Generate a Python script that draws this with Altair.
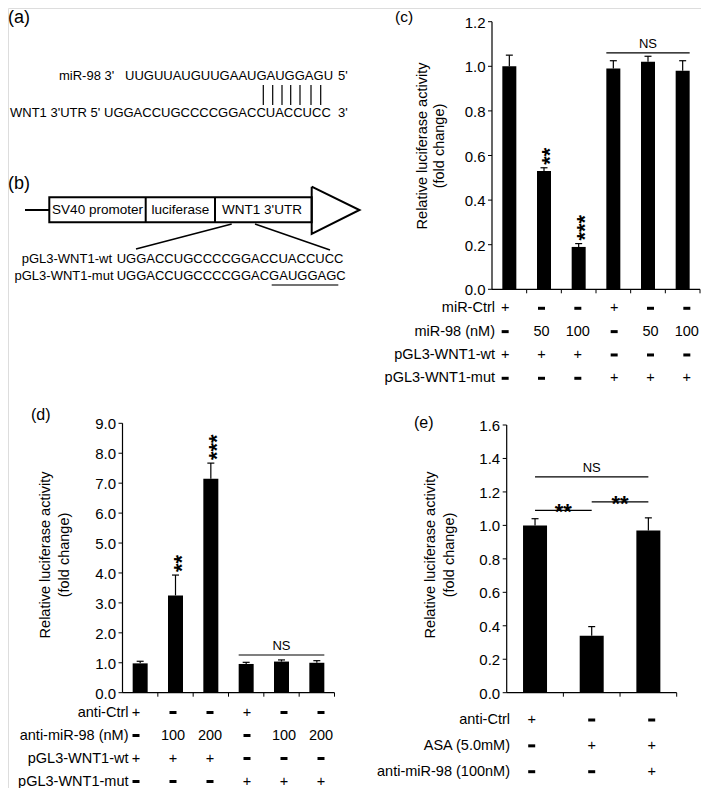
import altair as alt
import pandas as pd

FONT = "Liberation Sans"
W, H, M = 693, 780, 8


def cx(p):
    """page pixel -> chart pixel"""
    return p - M


# ---------------- text content (panels a, b) ----------------
panel_letters = ["(a)", "(b)", "(c)", "(d)", "(e)"]
mir98_label = "miR-98 3'"
mir98_seq = "UUGUUAUGUUGAAUGAUGGAGU"
mir98_end = "5'"
utr_label = "WNT1 3'UTR 5'"
utr_seq = "UGGACCUGCCCCGGACCUACCUCC"
utr_end = "3'"
construct_parts = ["SV40 promoter", "luciferase", "WNT1 3'UTR"]
reporter_labels = ["pGL3-WNT1-wt", "pGL3-WNT1-mut"]
reporter_seqs = ["UGGACCUGCCCCGGACCUACCUCC", "UGGACCUGCCCCGGACGAUGGAGC"]
y_title = ["Relative luciferase activity", "(fold change)"]

# ---------------- panel (c) ----------------
c_values = [1.00, 0.53, 0.19, 0.99, 1.02, 0.98]
c_errors = [0.05, 0.015, 0.015, 0.035, 0.025, 0.045]
c_stars = ["", "**", "***", "", "", ""]
c_cmp_start = [3]
c_cmp_end = [5]
c_cmp_level = [1.06]
c_cmp_label = ["NS"]
c_yticks = [0.0, 0.2, 0.4, 0.6, 0.8, 1.0, 1.2]
c_rows = ["miR-Ctrl", "miR-98 (nM)", "pGL3-WNT1-wt", "pGL3-WNT1-mut"]
c_cells = [
    ["+", "−", "−", "+", "−", "−"],
    ["−", "50", "100", "−", "50", "100"],
    ["+", "+", "+", "−", "−", "−"],
    ["−", "−", "−", "+", "+", "+"],
]

# ---------------- panel (d) ----------------
d_values = [0.98, 3.25, 7.15, 0.96, 1.04, 1.00]
d_errors = [0.07, 0.68, 0.52, 0.055, 0.055, 0.07]
d_stars = ["", "**", "***", "", "", ""]
d_cmp_start = [3]
d_cmp_end = [5]
d_cmp_level = [1.26]
d_cmp_label = ["NS"]
d_yticks = [0, 1, 2, 3, 4, 5, 6, 7, 8, 9]
d_rows = ["anti-Ctrl", "anti-miR-98 (nM)", "pGL3-WNT1-wt", "pGL3-WNT1-mut"]
d_cells = [
    ["+", "−", "−", "+", "−", "−"],
    ["−", "100", "200", "−", "100", "200"],
    ["+", "+", "+", "−", "−", "−"],
    ["−", "−", "−", "+", "+", "+"],
]

# ---------------- panel (e) ----------------
e_values = [1.00, 0.34, 0.97]
e_errors = [0.04, 0.055, 0.075]
e_stars = ["", "", ""]
e_cmp_start = [0, 0, 1]
e_cmp_end = [2, 1, 2]
e_cmp_level = [1.29, 1.09, 1.14]
e_cmp_label = ["NS", "**", "**"]
e_yticks = [0.0, 0.2, 0.4, 0.6, 0.8, 1.0, 1.2, 1.4, 1.6]
e_rows = ["anti-Ctrl", "ASA (5.0mM)", "anti-miR-98 (100nM)"]
e_cells = [
    ["+", "−", "−"],
    ["−", "+", "+"],
    ["−", "−", "+"],
]

# ---------------- layout (page pixels) ----------------
LAY_C = dict(x0=487, x1=705, y0=289.3, y1=21.7, ymax=1.2, bw=14, edge=7,
             r0=308.3, r1=378.3, lab_dx=8)
LAY_D = dict(x0=117.5, x1=339.5, y0=692.7, y1=423.3, ymax=9, bw=15, edge=7.5,
             r0=712.5, r1=781.5, lab_dx=11)
LAY_E = dict(x0=501.7, x1=681.7, y0=692.7, y1=425, ymax=1.6, bw=24, edge=0,
             r0=720, r1=771.7, lab_dx=8.3)

PX = alt.Scale(domain=[0, 709], range=[-M, 709 - M], zero=False, nice=False)
PY = alt.Scale(domain=[0, 796], range=[-M, 796 - M], zero=False, nice=False)


def diagram():
    left = pd.DataFrame([
        dict(text=panel_letters[0], x=8, y=18, size=18),
        dict(text=panel_letters[1], x=8, y=184, size=18),
        dict(text=panel_letters[2], x=395, y=17, size=15.5),
        dict(text=panel_letters[3], x=31, y=415, size=16),
        dict(text=panel_letters[4], x=414, y=423, size=16),
        dict(text=mir98_label, x=59, y=76, size=13),
        dict(text=mir98_seq, x=125, y=76, size=13),
        dict(text=mir98_end, x=338, y=76, size=13),
        dict(text=utr_label, x=10, y=113.3, size=13),
        dict(text=utr_seq, x=104, y=113.3, size=13),
        dict(text=utr_end, x=338, y=113.3, size=13),
        dict(text=reporter_seqs[0], x=116.7, y=259.3, size=13),
        dict(text=reporter_seqs[1], x=116.7, y=276, size=13),
    ])
    right = pd.DataFrame([
        dict(text=reporter_labels[0], x=112, y=259.3, size=13),
        dict(text=reporter_labels[1], x=113.5, y=276, size=13),
    ])
    center = pd.DataFrame([
        dict(text=construct_parts[0], x=97.5, y=210, size=13.5),
        dict(text=construct_parts[1], x=180.3, y=210, size=13.5),
        dict(text=construct_parts[2], x=262, y=210, size=13.5),
    ])
    rotated = pd.DataFrame([
        dict(text=y_title[0], x=423, y=146, size=14.5),
        dict(text=y_title[1], x=440, y=146, size=14.5),
        dict(text=y_title[0], x=45.7, y=555, size=14.5),
        dict(text=y_title[1], x=65, y=555, size=14.5),
        dict(text=y_title[0], x=430.7, y=555, size=14.5),
        dict(text=y_title[1], x=450, y=555, size=14.5),
    ])
    pair_x = [263.3, 272.7, 282, 290.7, 300, 311, 320.7]
    segs = [
        dict(x=25, y=210, x2=49.3, y2=210, w=2, col="black"),
        dict(x=145.7, y=197.3, x2=145.7, y2=222.3, w=2, col="black"),
        dict(x=215, y=197.3, x2=215, y2=222.3, w=2, col="black"),
        dict(x=231.7, y=224, x2=136, y2=249, w=1.5, col="black"),
        dict(x=255, y=224, x2=330, y2=250, w=1.5, col="black"),
        dict(x=271.7, y=285, x2=338.3, y2=285, w=1.5, col="#444444"),
    ] + [dict(x=px, y=85, x2=px, y2=105, w=1.2, col="black") for px in pair_x]
    segs = pd.DataFrame(segs)
    box = pd.DataFrame([dict(x=49.3, y=197.3, x2=311.7, y2=222.3)])
    tri = pd.DataFrame([
        dict(x=311.7, y=186.7, o=0), dict(x=359.5, y=210, o=1),
        dict(x=311.7, y=234, o=2), dict(x=311.7, y=186.7, o=3),
    ])

    X = alt.X("x:Q", scale=PX, axis=None)
    Y = alt.Y("y:Q", scale=PY, axis=None)
    S = alt.Size("size:Q", scale=None, legend=None)

    box_l = alt.Chart(box).mark_rect(fill="white", stroke="black", strokeWidth=2).encode(
        x=X, x2="x2:Q", y=Y, y2="y2:Q")
    tri_l = alt.Chart(tri).mark_line(color="black", strokeWidth=2).encode(
        x=X, y=Y, order="o:O")
    seg_l = alt.Chart(segs).mark_rule().encode(
        x=X, x2="x2:Q", y=Y, y2="y2:Q",
        strokeWidth=alt.StrokeWidth("w:Q", scale=None, legend=None),
        color=alt.Color("col:N", scale=None, legend=None))
    tl = alt.Chart(left).mark_text(align="left", baseline="middle", font=FONT, color="black").encode(
        x=X, y=Y, text="text:N", size=S)
    tr = alt.Chart(right).mark_text(align="right", baseline="middle", font=FONT, color="black").encode(
        x=X, y=Y, text="text:N", size=S)
    tc = alt.Chart(center).mark_text(align="center", baseline="middle", font=FONT, color="black").encode(
        x=X, y=Y, text="text:N", size=S)
    trot = alt.Chart(rotated).mark_text(align="center", baseline="middle", angle=270,
                                        font=FONT, color="black").encode(
        x=X, y=Y, text="text:N", size=S)
    return alt.layer(box_l, tri_l, seg_l, tl, tr, tc, trot)


def bar_panel(values, errors, stars, cs, ce, cl, clab, yticks, L):
    n = len(values)
    start = -0.5
    xs = alt.Scale(domain=[start, n - 0.5], range=[cx(L["x0"]), cx(L["x1"])], nice=False, zero=False)
    ys = alt.Scale(domain=[0, L["ymax"]], range=[cx(L["y0"]), cx(L["y1"])], nice=False)

    # axes drawn through the scales
    ydf = pd.DataFrame({"v": yticks})
    yb = alt.Chart(ydf).transform_calculate(x0=str(start), lab="format(datum.v, '.1f')")
    ytick = yb.mark_rule(color="black", strokeWidth=1, xOffset=-4).encode(
        x=alt.X("x0:Q", scale=xs, axis=None), x2="x0:Q", y=alt.Y("v:Q", scale=ys, axis=None))
    ylab = yb.mark_text(align="right", baseline="middle", fontSize=15, font=FONT,
                        color="black", dx=-6.5, dy=1).encode(
        x=alt.X("x0:Q", scale=xs, axis=None), y=alt.Y("v:Q", scale=ys, axis=None), text="lab:N")
    ydom = yb.mark_rule(color="black", strokeWidth=1.2).encode(
        x=alt.X("x0:Q", scale=xs, axis=None),
        y=alt.Y("min(v):Q", scale=ys, axis=None), y2="max(v):Q")
    xdf = pd.DataFrame({"b": [i + 0.5 for i in range(n)]})
    xb = alt.Chart(xdf).transform_calculate(y0="0", x0=str(start))
    xtick = xb.mark_rule(color="black", strokeWidth=1, y2Offset=4).encode(
        x=alt.X("b:Q", scale=xs, axis=None), y=alt.Y("y0:Q", scale=ys, axis=None), y2="y0:Q")
    xdom = xb.mark_rule(color="black", strokeWidth=1.2).encode(
        x=alt.X("min(x0):Q", scale=xs, axis=None), x2="max(b):Q",
        y=alt.Y("min(y0):Q", scale=ys, axis=None))

    df = pd.DataFrame({"idx": list(range(n)), "val": values, "err": errors, "star": stars})
    base = alt.Chart(df).transform_calculate(top="datum.val + datum.err")
    X = alt.X("idx:Q", scale=xs, axis=None)
    bars = base.mark_bar(orient="vertical", width=L["bw"], color="black").encode(
        x=X, y=alt.Y("val:Q", scale=ys, axis=None))
    err = base.mark_rule(color="black", strokeWidth=1.2).encode(
        x=X, y=alt.Y("val:Q", scale=ys, axis=None), y2="top:Q")
    cap = base.mark_rule(color="black", strokeWidth=1.2, xOffset=-3.5, x2Offset=3.5).encode(
        x=X, x2="idx:Q", y=alt.Y("top:Q", scale=ys, axis=None))
    layers = [bars, err, cap, ytick, ylab, ydom, xtick, xdom]
    if any(s for s in stars):
        st = base.transform_filter("datum.star != ''").mark_text(
            angle=270, align="left", baseline="middle", fontSize=22, fontWeight="bold",
            font=FONT, color="black", dx=3, dy=6).encode(
            x=X, y=alt.Y("top:Q", scale=ys, axis=None), text="star:N")
        layers.append(st)
    cdf = pd.DataFrame({"start": cs, "end": ce, "level": cl, "label": clab})
    cb = alt.Chart(cdf).transform_calculate(mid="(datum.start + datum.end) / 2")
    crule = cb.mark_rule(color="black", strokeWidth=1.2, xOffset=-L["edge"], x2Offset=L["edge"]).encode(
        x=alt.X("start:Q", scale=xs, axis=None), x2="end:Q",
        y=alt.Y("level:Q", scale=ys, axis=None))
    ns = cb.transform_filter("datum.label == 'NS'").mark_text(
        fontSize=13, font=FONT, color="black", baseline="middle", dy=-8.5).encode(
        x=alt.X("mid:Q", scale=xs, axis=None), y=alt.Y("level:Q", scale=ys, axis=None), text="label:N")
    layers += [crule, ns]
    if any(l != "NS" for l in clab):
        sig = cb.transform_filter("datum.label != 'NS'").mark_text(
            fontSize=22, fontWeight="bold", font=FONT, color="black", baseline="middle", dy=2).encode(
            x=alt.X("mid:Q", scale=xs, axis=None), y=alt.Y("level:Q", scale=ys, axis=None), text="label:N")
        layers.append(sig)
    return alt.layer(*layers)


def table_panel(rows, cells, L):
    n = len(cells[0])
    start = -0.5
    recs = [dict(row=r, idx=j, val=v) for i, r in enumerate(rows) for j, v in enumerate(cells[i])]
    df = pd.DataFrame(recs)
    xs = alt.Scale(domain=[start, n - 0.5], range=[cx(L["x0"]), cx(L["x1"])], nice=False, zero=False)
    ys = alt.Scale(type="point", domain=rows, range=[cx(L["r0"]), cx(L["r1"])], padding=0)
    txt = alt.Chart(df).transform_filter("datum.val != '−'").mark_text(
        fontSize=14.5, font=FONT, color="black", baseline="middle").encode(
        x=alt.X("idx:Q", scale=xs, axis=None), y=alt.Y("row:N", scale=ys, axis=None), text="val:N")
    dash = alt.Chart(df).transform_filter("datum.val == '−'").mark_tick(
        orient="horizontal", size=7, thickness=3, color="black", opacity=1).encode(
        x=alt.X("idx:Q", scale=xs, axis=None), y=alt.Y("row:N", scale=ys, axis=None))
    labs = alt.Chart(pd.DataFrame({"row": rows})).transform_calculate(x0=str(start)).mark_text(
        align="right", baseline="middle", fontSize=14.5, font=FONT, color="black", dx=L["lab_dx"]).encode(
        x=alt.X("x0:Q", scale=xs, axis=None), y=alt.Y("row:N", scale=ys, axis=None), text="row:N")
    return alt.layer(txt, dash, labs)


chart = alt.layer(
    diagram(),
    bar_panel(c_values, c_errors, c_stars, c_cmp_start, c_cmp_end, c_cmp_level, c_cmp_label, c_yticks, LAY_C),
    table_panel(c_rows, c_cells, LAY_C),
    bar_panel(d_values, d_errors, d_stars, d_cmp_start, d_cmp_end, d_cmp_level, d_cmp_label, d_yticks, LAY_D),
    table_panel(d_rows, d_cells, LAY_D),
    bar_panel(e_values, e_errors, e_stars, e_cmp_start, e_cmp_end, e_cmp_level, e_cmp_label, e_yticks, LAY_E),
    table_panel(e_rows, e_cells, LAY_E),
).resolve_scale(x="independent", y="independent").properties(
    width=W, height=H, autosize=alt.AutoSizeParams(type="none"), padding=0
).configure_view(stroke=None).configure(font=FONT, background="white")

chart.save("out.html", embed_options={"renderer": "svg", "actions": False})
